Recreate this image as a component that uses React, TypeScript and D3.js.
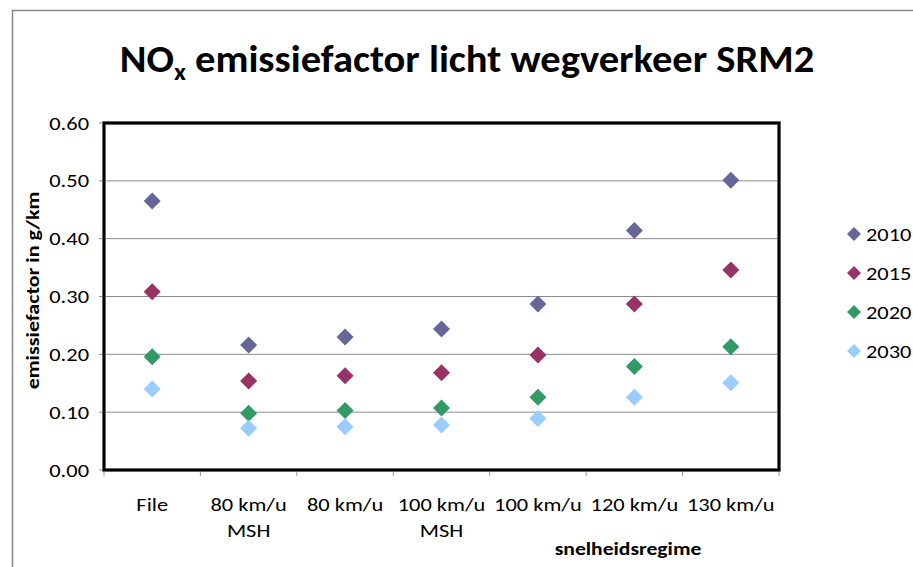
import * as d3 from 'd3'

const categories = ['File', '80 km/u\nMSH', '80 km/u', '100 km/u\nMSH', '100 km/u', '120 km/u', '130 km/u']
const years = ['2010', '2015', '2020', '2030']
const colors = ['#666699', '#993366', '#339966', '#99CCFF']

const v2010 = [0.465, 0.216, 0.23, 0.244, 0.287, 0.414, 0.501]
const v2015 = [0.308, 0.154, 0.163, 0.168, 0.199, 0.287, 0.346]
const v2020 = [0.196, 0.098, 0.103, 0.107, 0.126, 0.179, 0.213]
const v2030 = [0.14, 0.072, 0.075, 0.078, 0.089, 0.126, 0.151]
const series = [v2010, v2015, v2020, v2030]

const yTicks = [0, 0.1, 0.2, 0.3, 0.4, 0.5, 0.6]

const W = 913
const H = 567
const plot = { left: 104, right: 779, top: 123, bottom: 470 }
const font = "Carlito, Calibri, 'Open Sans', sans-serif"
// the reference text is rendered a bit wider than plain Calibri
const SX = 1.18

function Diamond({ x, y, r, fill }: { x: number; y: number; r: number; fill: string }) {
  return <path d={`M${x},${y - r}L${x + r},${y}L${x},${y + r}L${x - r},${y}Z`} fill={fill} />
}

export default function App() {
  const x = d3.scaleBand<number>().domain(d3.range(categories.length)).range([plot.left, plot.right])
  const y = d3.scaleLinear().domain([0, 0.6]).range([plot.bottom, plot.top])
  const fmt = d3.format('.2f')
  const bw = x.bandwidth()
  const cx = (i: number) => (x(i) ?? 0) + bw / 2

  return (
    <svg width={W} height={H} style={{ display: 'block', position: 'absolute', left: 0, top: 0, background: '#fff' }} fontFamily={font}>
      {/* outer chart border */}
      <path d={`M12.5,${H}V10.5H${W}`} fill="none" stroke="#888" strokeWidth={1.5} />

      <g transform={`translate(467,72) scale(1.04,1)`}>
        <text x={0} y={0} textAnchor="middle" fontSize={39} fontWeight="bold" fill="#000">
          NO<tspan fontSize={25} dy={8}>x</tspan>
          <tspan dy={-8}> emissiefactor licht wegverkeer SRM2</tspan>
        </text>
      </g>

      {/* gridlines */}
      {yTicks.slice(1, -1).map(t => (
        <line key={t} x1={plot.left} x2={plot.right} y1={y(t)} y2={y(t)} stroke="#8c8c8c" strokeWidth={1} />
      ))}

      {/* y ticks + labels */}
      {yTicks.map(t => (
        <g key={`yt-${t}`}>
          <line x1={plot.left - 5} x2={plot.left} y1={y(t)} y2={y(t)} stroke="#888" />
          <g transform={`translate(89,${y(t)}) scale(${SX},1)`}>
            <text x={0} y={0} dy="0.35em" textAnchor="end" fontSize={19} fill="#000">{fmt(t)}</text>
          </g>
        </g>
      ))}

      {/* x ticks */}
      {d3.range(categories.length + 1).map(i => {
        const tx = plot.left + i * bw
        return <line key={`xt-${i}`} x1={tx} x2={tx} y1={plot.bottom} y2={plot.bottom + 6} stroke="#999" />
      })}

      {/* plot frame */}
      <rect x={plot.left} y={plot.top} width={plot.right - plot.left} height={plot.bottom - plot.top} fill="none" stroke="#888" strokeWidth={4} />
      <rect x={plot.left} y={plot.top} width={plot.right - plot.left} height={plot.bottom - plot.top} fill="none" stroke="#000" strokeWidth={2.5} />

      {/* points */}
      {series.map((vals, si) => vals.map((v, i) => (
        <Diamond key={`${si}-${i}`} x={cx(i)} y={y(v)} r={8.5} fill={colors[si]} />
      )))}

      {/* x labels */}
      {categories.map((c, i) => (
        <g key={c} transform={`translate(${cx(i)},511) scale(${SX},1)`}>
          <text x={0} y={0} textAnchor="middle" fontSize={19} fill="#000">
            {c.split('\n').map((ln, k) => (
              <tspan key={k} x={0} dy={k === 0 ? 0 : 26}>{ln}</tspan>
            ))}
          </text>
        </g>
      ))}

      <g transform={`translate(628,555) scale(1.2,1)`}>
        <text x={0} y={0} textAnchor="middle" fontSize={18} fontWeight="bold" fill="#000">snelheidsregime</text>
      </g>

      <g transform={`translate(39,${(plot.top + plot.bottom) / 2 - 6}) rotate(-90) scale(1.22,1)`}>
        <text x={0} y={0} textAnchor="middle" fontSize={18} fontWeight="bold" fill="#000">emissiefactor in g/km</text>
      </g>

      {/* legend */}
      {years.map((yr, i) => (
        <g key={yr} transform={`translate(854,${234 + i * 39})`}>
          <Diamond x={0} y={0} r={7} fill={colors[i]} />
          <g transform={`translate(12,0) scale(${SX},1)`}>
            <text x={0} y={0} dy="0.35em" fontSize={19} fill="#000">{yr}</text>
          </g>
        </g>
      ))}
    </svg>
  )
}
